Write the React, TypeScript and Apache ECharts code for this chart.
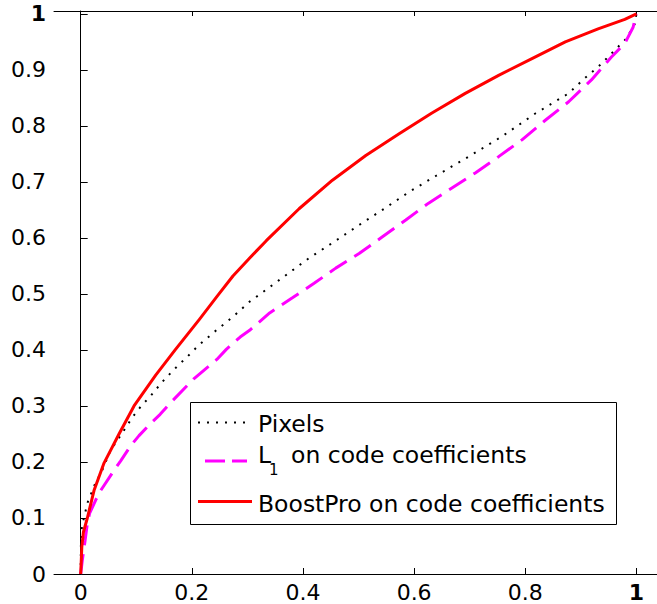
import React, { useEffect, useRef } from "react";
import * as echarts from "echarts";

const FONT = "DejaVu Sans";

const xTicks = [0, 0.2, 0.4, 0.6, 0.8, 1];
const xTickLabels = ["0", "0.2", "0.4", "0.6", "0.8", "1"];
const yTicks = [0, 0.1, 0.2, 0.3, 0.4, 0.5, 0.6, 0.7, 0.8, 0.9, 1];
const yTickLabels = ["0", "0.1", "0.2", "0.3", "0.4", "0.5", "0.6", "0.7", "0.8", "0.9", "1"];

const legendNames = ["Pixels", "L1 on code coefficients", "BoostPro on code coefficients"];

// Pixels (black dotted)
const pixelsX = [0, 0.0005, 0.001, 0.003, 0.007, 0.01, 0.014, 0.021, 0.027, 0.036, 0.054, 0.075, 0.084, 0.094, 0.109, 0.126, 0.146, 0.164, 0.176, 0.191, 0.213, 0.244, 0.275, 0.305, 0.322, 0.366, 0.411, 0.456, 0.501, 0.546, 0.591, 0.638, 0.698, 0.758, 0.818, 0.848, 0.878, 0.907, 0.934, 0.967, 0.982, 0.997, 1.0];
const pixelsY = [0, 0.059, 0.074, 0.089, 0.104, 0.118, 0.133, 0.148, 0.164, 0.179, 0.221, 0.252, 0.266, 0.281, 0.3, 0.318, 0.342, 0.361, 0.373, 0.387, 0.409, 0.435, 0.46, 0.487, 0.499, 0.531, 0.564, 0.593, 0.623, 0.652, 0.682, 0.71, 0.745, 0.781, 0.822, 0.84, 0.858, 0.885, 0.908, 0.941, 0.956, 0.982, 1.0];

// L1 on code coefficients (magenta dashed)
const l1X = [0, 0.003, 0.008, 0.012, 0.016, 0.027, 0.036, 0.042, 0.06, 0.072, 0.09, 0.105, 0.124, 0.143, 0.16, 0.203, 0.245, 0.262, 0.287, 0.304, 0.34, 0.381, 0.42, 0.459, 0.501, 0.543, 0.585, 0.626, 0.668, 0.71, 0.752, 0.794, 0.836, 0.878, 0.919, 0.955, 0.979, 0.994, 1.0];
const l1Y = [0, 0.025, 0.06, 0.09, 0.108, 0.132, 0.149, 0.158, 0.185, 0.202, 0.229, 0.247, 0.267, 0.285, 0.304, 0.348, 0.383, 0.401, 0.423, 0.435, 0.466, 0.493, 0.519, 0.546, 0.572, 0.602, 0.632, 0.662, 0.689, 0.716, 0.745, 0.775, 0.81, 0.843, 0.882, 0.923, 0.947, 0.976, 1.0];

// BoostPro on code coefficients (red solid)
const boostX = [0, 0.001, 0.002, 0.005, 0.012, 0.024, 0.042, 0.069, 0.096, 0.135, 0.17, 0.214, 0.245, 0.274, 0.305, 0.334, 0.393, 0.453, 0.513, 0.573, 0.632, 0.692, 0.752, 0.812, 0.872, 0.931, 0.979, 1.0];
const boostY = [0, 0.022, 0.048, 0.075, 0.1, 0.149, 0.198, 0.25, 0.3, 0.355, 0.4, 0.455, 0.495, 0.532, 0.565, 0.595, 0.652, 0.703, 0.747, 0.786, 0.823, 0.858, 0.89, 0.92, 0.95, 0.973, 0.99, 1.0];

const zip = (xs: number[], ys: number[]) => xs.map((x, i) => [x, ys[i]]);

export default function App() {
  const ref = useRef<HTMLDivElement>(null);
  useEffect(() => {
    if (!ref.current) return;
    const chart = echarts.init(ref.current, null, { renderer: "svg" });
    const axisLine = { show: true, lineStyle: { color: "#000", width: 1 } };
    const fmt = (ticks: number[], labels: string[]) => (v: number) => {
      const i = ticks.findIndex((t) => Math.abs(t - v) < 1e-6);
      const s = i >= 0 ? labels[i] : "";
      return s === "1" ? "{b|1}" : s;
    };
    const rich = { b: { fontWeight: "bold", fontSize: 22, fontFamily: FONT, color: "#000" } };
    const option: any = {
      animation: false,
      backgroundColor: "#fff",
      grid: { left: 54, top: 11, bottom: 30, right: -2, containLabel: false },
      xAxis: [
        {
          type: "value",
          min: -0.048,
          max: 1.037,
          axisLine,
          splitLine: { show: false },
          axisTick: { inside: true, length: 6, lineStyle: { color: "#000" }, customValues: xTicks },
          axisLabel: {
            customValues: xTicks,
            margin: 7,
            color: "#000",
            fontFamily: FONT,
            fontSize: 22,
            formatter: fmt(xTicks, xTickLabels),
            rich,
          },
        },
        {
          type: "value",
          position: "top",
          min: -0.048,
          max: 1.037,
          axisLine,
          splitLine: { show: false },
          axisTick: { inside: true, length: 5, lineStyle: { color: "#000" }, customValues: xTicks },
          axisLabel: { show: false },
        },
      ],
      yAxis: {
        type: "value",
        min: 0,
        max: 1.005,
        axisLine,
        splitLine: { show: false },
        axisTick: { inside: true, length: 7, lineStyle: { color: "#000" }, customValues: yTicks },
        axisLabel: {
          customValues: yTicks,
          margin: 8,
          color: "#000",
          fontFamily: FONT,
          fontSize: 22,
          formatter: fmt(yTicks, yTickLabels),
          rich,
        },
      },
      series: [
        {
          name: legendNames[0],
          type: "line",
          showSymbol: false,
          data: zip(pixelsX, pixelsY),
          lineStyle: { color: "#000", width: 2, type: [2, 7], cap: "butt" },
          z: 2,
        },
        {
          name: legendNames[1],
          type: "line",
          showSymbol: false,
          data: zip(l1X, l1Y),
          lineStyle: { color: "#ff00ff", width: 3, type: [20, 9], cap: "butt" },
          z: 3,
        },
        {
          name: legendNames[2],
          type: "line",
          showSymbol: false,
          data: zip(boostX, boostY),
          lineStyle: { color: "#ff0000", width: 3, join: "round" },
          z: 4,
        },
      ],
      graphic: [
        {
          type: "group",
          z: 100,
          children: [
            { type: "rect", shape: { x: 190.5, y: 402.5, width: 426, height: 122 }, style: { fill: "#fff", stroke: "#000", lineWidth: 1 } },
            { type: "line", shape: { x1: 198, y1: 422.5, x2: 252, y2: 422.5 }, style: { stroke: "#000", lineWidth: 2, lineDash: [2, 7] } },
            { type: "text", x: 258, y: 424, style: { text: "Pixels", font: `23.5px "${FONT}"`, fill: "#000", verticalAlign: "middle" } },
            { type: "line", shape: { x1: 205, y1: 461, x2: 247, y2: 461 }, style: { stroke: "#ff00ff", lineWidth: 3, lineDash: [20, 7] } },
            { type: "text", x: 258, y: 455, style: { text: "L", font: `23.5px "${FONT}"`, fill: "#000", verticalAlign: "middle" } },
            { type: "text", x: 269, y: 470, style: { text: "1", font: `15px "${FONT}"`, fill: "#000", verticalAlign: "middle" } },
            { type: "text", x: 291, y: 455, style: { text: "on code coefficients", font: `23.5px "${FONT}"`, fill: "#000", verticalAlign: "middle" } },
            { type: "line", shape: { x1: 198, y1: 501.5, x2: 252, y2: 501.5 }, style: { stroke: "#ff0000", lineWidth: 3 } },
            { type: "text", x: 258, y: 504, style: { text: "BoostPro on code coefficients", font: `23.5px "${FONT}"`, fill: "#000", verticalAlign: "middle" } },
          ],
        },
      ],
    };
    chart.setOption(option);
    return () => chart.dispose();
  }, []);
  return (
    <div
      ref={ref}
      style={{ position: "absolute", left: 0, top: 0, width: 657, height: 604, background: "#fff" }}
    />
  );
}
